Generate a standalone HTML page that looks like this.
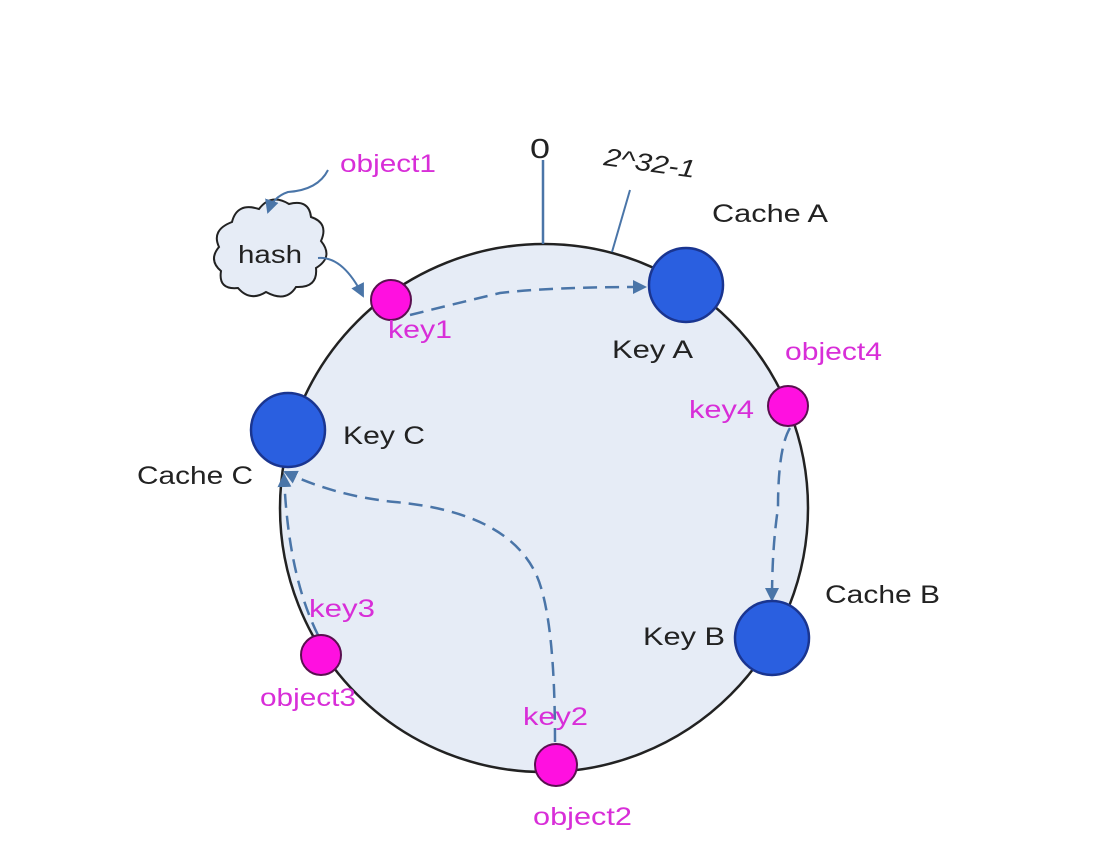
<!DOCTYPE html>
<html><head><style>body{margin:0;background:#fff}svg{display:block}</style></head><body>
<svg width="1114" height="856" viewBox="0 0 1114 856" xmlns="http://www.w3.org/2000/svg" font-family="Liberation Sans, Arial, sans-serif">
<defs><marker id="a" markerWidth="14" markerHeight="14" refX="12" refY="7" orient="auto" markerUnits="userSpaceOnUse"><path d="M0,0 L14,7 L0,14 z" fill="#4a75a8"/></marker></defs>
<circle cx="544" cy="508" r="264" fill="#e6ecf6" stroke="#222" stroke-width="2.5"/>
<line x1="543" y1="160" x2="543" y2="244" stroke="#4a75a8" stroke-width="2.5"/>
<line x1="630" y1="190" x2="612" y2="252" stroke="#4a75a8" stroke-width="2"/>
<g font-size="25" fill="#222" lengthAdjust="spacingAndGlyphs">
<text x="530" y="158" font-size="28" textLength="20" lengthAdjust="spacingAndGlyphs">0</text>
<text x="603" y="165" font-style="italic" transform="rotate(8 603 165)" textLength="92" lengthAdjust="spacingAndGlyphs">2^32-1</text>
<text x="712" y="222" textLength="116" lengthAdjust="spacingAndGlyphs">Cache A</text>
<text x="612" y="358" textLength="81" lengthAdjust="spacingAndGlyphs">Key A</text>
<text x="343" y="444" textLength="82" lengthAdjust="spacingAndGlyphs">Key C</text>
<text x="137" y="484" textLength="116" lengthAdjust="spacingAndGlyphs">Cache C</text>
<text x="825" y="603" textLength="115" lengthAdjust="spacingAndGlyphs">Cache B</text>
<text x="643" y="645" textLength="82" lengthAdjust="spacingAndGlyphs">Key B</text>
</g>
<!-- cloud -->
<path d="M232,222 q5,-20 27,-13 q12,-16 30,-5 q20,-5 22,13 q18,6 10,24 q13,16 -5,27 q2,20 -20,19 q-10,16 -30,5 q-16,10 -28,-4 q-20,2 -17,-17 q-13,-11 -2,-24 q-8,-17 13,-25z" fill="#e6ecf6" stroke="#222" stroke-width="2"/>
<text x="238" y="263" font-size="25" fill="#222" textLength="64" lengthAdjust="spacingAndGlyphs">hash</text>
<path d="M328,170 q-10,20 -40,22 q-15,5 -20,20" fill="none" stroke="#4a75a8" stroke-width="2" marker-end="url(#a)"/>
<path d="M318,258 q25,-2 45,38" fill="none" stroke="#4a75a8" stroke-width="2" marker-end="url(#a)"/>
<!-- dashed arrows -->
<g fill="none" stroke="#4a75a8" stroke-width="2.5" stroke-dasharray="14,8">
<path d="M410,315 q40,-10 90,-22 q50,-6 145,-6" marker-end="url(#a)"/>
<path d="M790,428 q-12,20 -12,80 q-6,40 -6,92" marker-end="url(#a)"/>
<path d="M318,635 q-30,-60 -34,-160" marker-end="url(#a)"/>
<path d="M555,742 q0,-130 -20,-170 q-30,-60 -140,-70 q-60,-6 -110,-30" marker-end="url(#a)"/>
</g>
<!-- nodes -->
<g fill="#2a5fe0" stroke="#1a3590" stroke-width="2.5">
<circle cx="686" cy="285" r="37"/><circle cx="288" cy="430" r="37"/><circle cx="772" cy="638" r="37"/>
</g>
<g fill="#ff10e0" stroke="#5a1050" stroke-width="2">
<circle cx="391" cy="300" r="20"/><circle cx="788" cy="406" r="20"/><circle cx="321" cy="655" r="20"/><circle cx="556" cy="765" r="21"/>
</g>
<g font-size="25" fill="#d82ed8">
<text x="340" y="172" textLength="96" lengthAdjust="spacingAndGlyphs">object1</text>
<text x="388" y="338" textLength="64" lengthAdjust="spacingAndGlyphs">key1</text>
<text x="785" y="360" textLength="97" lengthAdjust="spacingAndGlyphs">object4</text>
<text x="689" y="418" textLength="65" lengthAdjust="spacingAndGlyphs">key4</text>
<text x="309" y="617" textLength="66" lengthAdjust="spacingAndGlyphs">key3</text>
<text x="260" y="706" textLength="96" lengthAdjust="spacingAndGlyphs">object3</text>
<text x="523" y="725" textLength="65" lengthAdjust="spacingAndGlyphs">key2</text>
<text x="533" y="825" textLength="99" lengthAdjust="spacingAndGlyphs">object2</text>
</g>
</svg>
</body></html>
